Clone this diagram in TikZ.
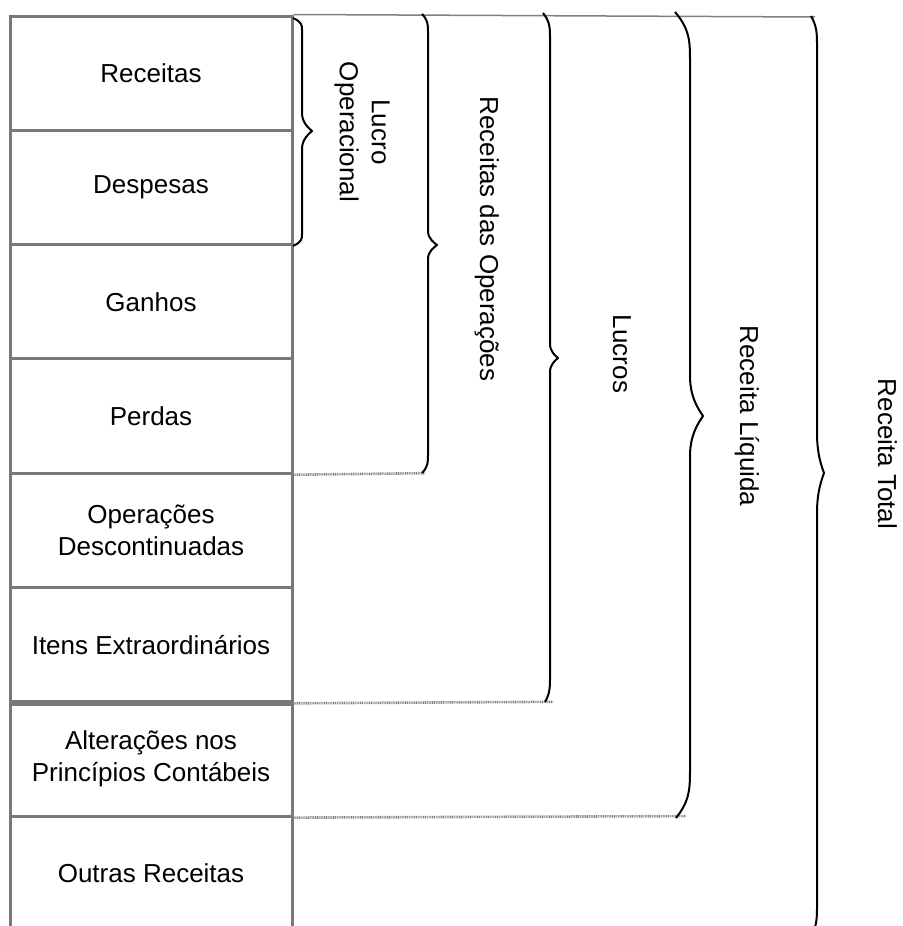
\documentclass[tikz,border=0pt]{standalone}
\usepackage{fontspec}
\setmainfont{Liberation Sans}
\tikzset{
  cell/.style={draw=gray!95!black, line width=3pt, minimum width=282pt,
    minimum height=114.3pt, inner sep=0pt, align=center,
    font=\fontsize{26}{32}\selectfont, text=black},
  sidelabel/.style={rotate=-90, inner sep=0pt, align=center,
    font=\fontsize{26}{32}\selectfont},
  bracepath/.style={draw=black, line width=2pt, line join=round},
  guide/.style={draw=gray, line width=2.6pt, dash pattern=on 1pt off 0.8pt},
  topline/.style={draw=gray, line width=1.5pt}
}
% curly bracket: #1 top end x, #2 stem x, #3 tip x, #4 top y, #5 tip y,
% #6 bottom y, #7 end curl length, #8 tip curl half length, #9 bottom end x
\newcommand\curlybracket[9]{%
  \draw[bracepath] (#1,#4)
    .. controls (#2,{#4+0.35*#7}) and (#2,{#4+0.6*#7}) .. (#2,{#4+#7})
    -- (#2,{#5-#8})
    .. controls (#2,{#5-0.45*#8}) and ({#3-0.3*(#3-#2)},{#5-0.15*#8}) .. (#3,#5)
    .. controls ({#3-0.3*(#3-#2)},{#5+0.15*#8}) and (#2,{#5+0.45*#8}) .. (#2,{#5+#8})
    -- (#2,{#6-#7})
    .. controls (#2,{#6-0.6*#7}) and (#2,{#6-0.35*#7}) .. (#9,#6);}
\begin{document}
\begin{tikzpicture}[x=1pt, y=-1pt]
\useasboundingbox (0,0) rectangle (902,926);
\fill[white] (0,0) rectangle (902,926);
\clip (0,0) rectangle (902,926);

% statement rows
\node[cell] (r1) at (151,73.15) {Receitas};
\node[cell] (r2) at (151,187.45) {Despesas};
\node[cell] (r3) at (151,301.75) {Ganhos};
\node[cell] (r4) at (151,416.05) {Perdas};
\node[cell] (r5) at (151,530.35) {Operações\\Descontinuadas};
\node[cell] (r6) at (151,644.65) {Itens Extraordinários};
\node[cell] (r7) at (151,758.95) {Alterações nos\\Princípios Contábeis};
\node[cell] (r8) at (151,873.25) {Outras Receitas};
\draw[draw=gray!95!black, line width=4.5pt] (r6.south west) -- (r6.south east);

% top rule and dotted guides to the bracket ends
\coordinate (topend) at (815,17);
\coordinate (g4) at (425,473.2);
\coordinate (g6) at (553,701.8);
\coordinate (g7) at (686,816.1);
\draw[topline] (r1.north east) -- (topend);
\draw[guide] (r4.south east) -- (g4);
\draw[guide] (r6.south east) -- (g6);
\draw[guide] (r7.south east) -- (g7);

% brackets
\curlybracket{293}{302}{312}{18}{131}{246}{12}{18}{293}
\curlybracket{422}{428}{437}{14}{245}{473}{18}{14}{422}
\curlybracket{543}{550}{558}{13}{358}{702}{25}{14}{545}
\curlybracket{675}{690}{703}{12}{416}{818}{50}{40}{676}
\curlybracket{811}{817}{824}{16}{473}{935}{30}{40}{812}

% bracket labels
\node[sidelabel] (lop) at (362,132) {Lucro\\Operacional};
\node[sidelabel, anchor=base] (rop) at (480,239) {Receitas das Operações};
\node[sidelabel, anchor=base] (luc) at (613,354) {Lucros};
\node[sidelabel, anchor=base] (rliq) at (740,416) {Receita Líquida};
\node[sidelabel, anchor=base] (rtot) at (878,454) {Receita Total};
\end{tikzpicture}
\end{document}
